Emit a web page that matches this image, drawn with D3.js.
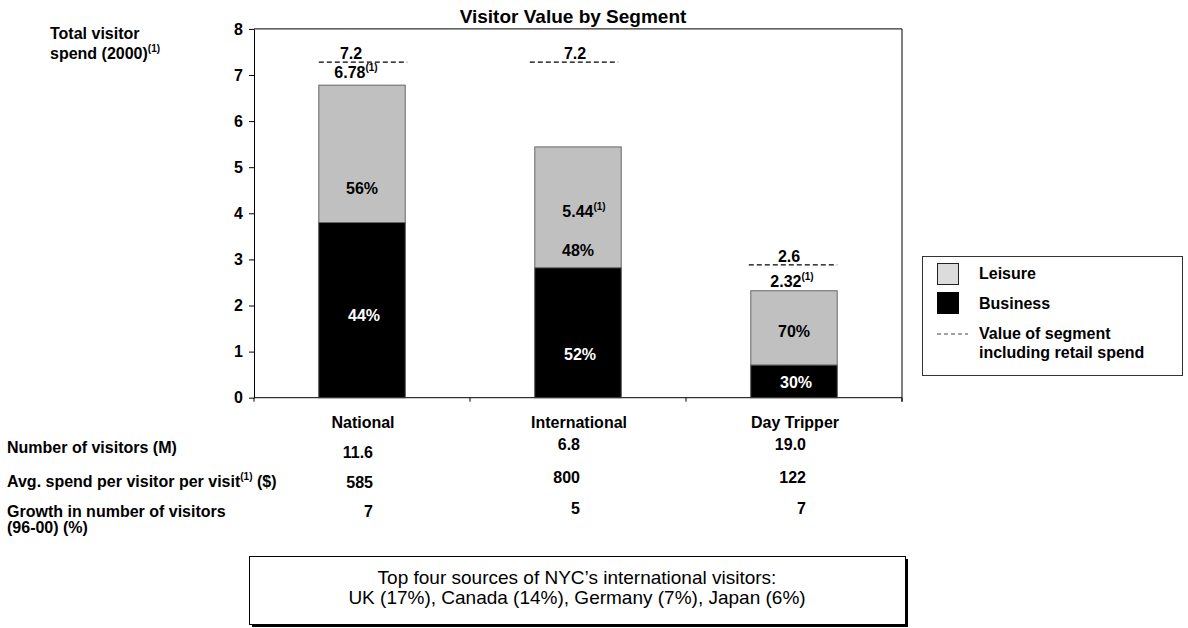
<!DOCTYPE html>
<html>
<head>
<meta charset="utf-8">
<script src="https://cdn.jsdelivr.net/npm/d3@7"></script>
<style>
  html, body { margin: 0; padding: 0; background: #fff; }
  svg { display: block; font-family: "Liberation Sans", Arial, Helvetica, sans-serif; }
  .b { font-weight: bold; }
</style>
</head>
<body>
<svg id="chart" width="1188" height="628"></svg>
<script>
// ---------------- data ----------------
const categories = ["National", "International", "Day Tripper"];
const business = [3.80, 2.82, 0.71];
const leisure = [2.98, 2.62, 1.61];
const totalLabels = ["6.78", "5.44", "2.32"];
const retailValues = [7.28, 7.28, 2.88];
const retailLabels = ["7.2", "7.2", "2.6"];
const leisurePct = ["56%", "48%", "70%"];
const businessPct = ["44%", "52%", "30%"];
const yTicks = [0, 1, 2, 3, 4, 5, 6, 7, 8];
const visitors = ["11.6", "6.8", "19.0"];
const avgSpend = ["585", "800", "122"];
const growth = ["7", "5", "7"];
const legendLabels = ["Leisure", "Business"];
const boxLines = ["Top four sources of NYC\u2019s international visitors:",
                  "UK (17%), Canada (14%), Germany (7%), Japan (6%)"];

// label anchor values (in data units)
const totalLabelAt = [6.93, 3.92, 2.41];
const leisurePctAt = [4.55, 3.20, 1.43];
const businessPctAt = [1.79, 0.95, 0.34];

// ---------------- layout ----------------
const svg = d3.select("#chart");
const W = 1188, H = 628;
svg.append("rect").attr("width", W).attr("height", H).attr("fill", "#fff");

const pLeft = 254, pRight = 902, pTop = 28.9, pBottom = 397.7;
const y = d3.scaleLinear().domain([0, 8]).range([pBottom, pTop]);
const x = d3.scaleBand().domain(categories).range([pLeft, pRight]).paddingInner(0.6).paddingOuter(0.3);
const xOuter = d3.scaleBand().domain(categories).range([pLeft, pRight]);
const cx = c => x(c) + x.bandwidth() / 2;

const GRAY = "#c0c0c0";

// title
svg.append("text").attr("class", "b").attr("x", 573).attr("y", 23)
  .attr("text-anchor", "middle").attr("font-size", 19).text("Visitor Value by Segment");

// y-axis title
const yt = svg.append("text").attr("class", "b").attr("font-size", 16);
yt.append("tspan").attr("x", 50).attr("y", 39).text("Total visitor");
yt.append("tspan").attr("x", 50).attr("y", 59).text("spend (2000)");
yt.append("tspan").attr("font-size", 10).attr("dy", -7).text("(1)");

// frame (top & right)
svg.append("line").attr("x1", pLeft).attr("x2", pRight).attr("y1", y(8)).attr("y2", y(8))
  .attr("stroke", "#000").attr("stroke-width", 1);
svg.append("line").attr("x1", pRight).attr("x2", pRight).attr("y1", y(8)).attr("y2", pBottom + 4)
  .attr("stroke", "#000").attr("stroke-width", 1);

// y axis
const yAxis = svg.append("g").attr("transform", `translate(${pLeft},0)`)
  .call(d3.axisLeft(y).tickValues(yTicks).tickSize(5).tickSizeOuter(0).tickPadding(6));
yAxis.selectAll("text").attr("class", "b").attr("font-size", 16).attr("fill", "#000")
  .attr("font-family", '"Liberation Sans", Arial, sans-serif');
yAxis.select(".domain").attr("stroke", "#000");
yAxis.selectAll(".tick line").attr("stroke", "#000");

// x axis line and ticks at category boundaries
svg.append("line").attr("x1", pLeft).attr("x2", pRight).attr("y1", pBottom).attr("y2", pBottom)
  .attr("stroke", "#000");
const bounds = categories.map(c => xOuter(c)).concat([pRight]);
svg.selectAll(".xtick").data(bounds).join("line").attr("class", "xtick")
  .attr("x1", d => d).attr("x2", d => d).attr("y1", pBottom).attr("y2", pBottom + 4)
  .attr("stroke", "#000");

// bars
const rows = categories.map((c, i) => ({ c, i, b: business[i], l: leisure[i] }));
svg.selectAll(".bus").data(rows).join("rect").attr("class", "bus")
  .attr("x", d => x(d.c)).attr("width", x.bandwidth())
  .attr("y", d => y(d.b)).attr("height", d => y(0) - y(d.b))
  .attr("fill", "#000").attr("stroke", "#404040").attr("stroke-width", 1);
svg.selectAll(".lei").data(rows).join("rect").attr("class", "lei")
  .attr("x", d => x(d.c)).attr("width", x.bandwidth())
  .attr("y", d => y(d.b + d.l)).attr("height", d => y(d.b) - y(d.b + d.l))
  .attr("fill", GRAY).attr("stroke", "#666").attr("stroke-width", 1);

// retail dashed lines
const dashShift = [0, -5, -2];
svg.selectAll(".retail").data(rows).join("line").attr("class", "retail")
  .attr("x1", d => x(d.c) + dashShift[d.i]).attr("x2", d => x(d.c) + x.bandwidth() + dashShift[d.i] + 2)
  .attr("y1", d => y(retailValues[d.i])).attr("y2", d => y(retailValues[d.i]))
  .attr("stroke", "#000").attr("stroke-width", 1.3).attr("stroke-dasharray", "5,3");

const retailShift = [-11, -3, -5];
svg.selectAll(".rlab").data(rows).join("text").attr("class", "rlab b")
  .attr("x", d => cx(d.c) + retailShift[d.i]).attr("y", d => y(retailValues[d.i]) - 3)
  .attr("text-anchor", "middle").attr("font-size", 16).text(d => retailLabels[d.i]);

// total labels with superscript
const totShift = [-6, 6, -2];
const tl = svg.selectAll(".tlab").data(rows).join("text").attr("class", "tlab b")
  .attr("x", d => cx(d.c) + totShift[d.i]).attr("y", d => y(totalLabelAt[d.i]))
  .attr("text-anchor", "middle").attr("font-size", 16);
tl.append("tspan").text(d => totalLabels[d.i]);
tl.append("tspan").attr("font-size", 10).attr("dy", -7).text("(1)");

// percentage labels
svg.selectAll(".lp").data(rows).join("text").attr("class", "lp b")
  .attr("x", d => cx(d.c)).attr("y", d => y(leisurePctAt[d.i]))
  .attr("dy", "0.35em").attr("text-anchor", "middle").attr("font-size", 16)
  .attr("fill", "#000").text(d => leisurePct[d.i]);
svg.selectAll(".bp").data(rows).join("text").attr("class", "bp b")
  .attr("x", d => cx(d.c) + 2).attr("y", d => y(businessPctAt[d.i]))
  .attr("dy", "0.35em").attr("text-anchor", "middle").attr("font-size", 16)
  .attr("fill", "#fff").text(d => businessPct[d.i]);

// category labels
svg.selectAll(".cat").data(rows).join("text").attr("class", "cat b")
  .attr("x", d => cx(d.c) + 1).attr("y", 428)
  .attr("text-anchor", "middle").attr("font-size", 16).text(d => d.c);

// table rows
const rowLab = svg.append("g").attr("class", "b").attr("font-size", 16);
rowLab.append("text").attr("x", 7).attr("y", 453).text("Number of visitors (M)");
const r2 = rowLab.append("text").attr("x", 7).attr("y", 487);
r2.append("tspan").text("Avg. spend per visitor per visit");
r2.append("tspan").attr("font-size", 10).attr("dy", -7).text("(1)");
r2.append("tspan").attr("dy", 7).text(" ($)");
rowLab.append("text").attr("x", 7).attr("y", 517).text("Growth in number of visitors");
rowLab.append("text").attr("x", 7).attr("y", 533).text("(96-00) (%)");

const valEnd = [11, 2, 12];
const tableRows = [visitors, avgSpend, growth];
const rowYNational = [458, 488, 517];
const rowYOther = [450, 483, 514];
tableRows.forEach((vals, r) => {
  svg.selectAll(".tv" + r).data(rows).join("text").attr("class", "tv" + r + " b")
    .attr("x", d => cx(d.c) + valEnd[d.i]).attr("y", d => d.i === 0 ? rowYNational[r] : rowYOther[r])
    .attr("text-anchor", "end").attr("font-size", 16).text(d => vals[d.i]);
});

// legend
const lg = svg.append("g");
lg.append("rect").attr("x", 922.5).attr("y", 256.5).attr("width", 260).attr("height", 119)
  .attr("fill", "#fff").attr("stroke", "#333").attr("stroke-width", 1);
lg.append("rect").attr("x", 937.5).attr("y", 263.5).attr("width", 21).attr("height", 21)
  .attr("fill", "#dcdcdc").attr("stroke", "#222").attr("stroke-width", 1);
lg.append("rect").attr("x", 937.5).attr("y", 292.5).attr("width", 21).attr("height", 21)
  .attr("fill", "#000").attr("stroke", "#000").attr("stroke-width", 1);
lg.append("line").attr("x1", 937).attr("x2", 968).attr("y1", 334).attr("y2", 334)
  .attr("stroke", "#444").attr("stroke-width", 1).attr("stroke-dasharray", "4,3");
const lt = lg.append("g").attr("class", "b").attr("font-size", 16);
lt.append("text").attr("x", 979).attr("y", 279).text(legendLabels[0]);
lt.append("text").attr("x", 979).attr("y", 309).text(legendLabels[1]);
lt.append("text").attr("x", 979).attr("y", 339).text("Value of segment");
lt.append("text").attr("x", 979).attr("y", 358).text("including retail spend");

// bottom box with shadow
const bx = 249, by = 556, bw = 656, bh = 68;
svg.append("rect").attr("x", bx + 3).attr("y", by + 3).attr("width", bw).attr("height", bh).attr("fill", "#000");
svg.append("rect").attr("x", bx + 0.5).attr("y", by + 0.5).attr("width", bw).attr("height", bh)
  .attr("fill", "#fff").attr("stroke", "#000").attr("stroke-width", 1);
svg.selectAll(".boxl").data(boxLines).join("text").attr("class", "boxl")
  .attr("x", bx + bw / 2).attr("y", (d, i) => 584 + i * 20)
  .attr("text-anchor", "middle").attr("font-size", 19).text(d => d);
</script>
</body>
</html>
